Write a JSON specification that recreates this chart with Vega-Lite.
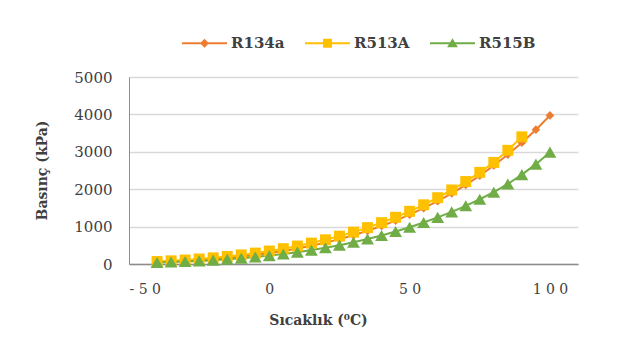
{
  "$schema": "https://vega.github.io/schema/vega-lite/v6.json",
  "width": 449,
  "height": 187,
  "autosize": "none",
  "padding": {"left": 129, "top": 77, "right": 42, "bottom": 92},
  "background": "white",
  "config": {
    "view": {"stroke": null},
    "font": "DejaVu Serif"
  },
  "data": {"values": [
    {"s":"R134a","T":-40,"P":51},{"s":"R134a","T":-35,"P":66},{"s":"R134a","T":-30,"P":84},{"s":"R134a","T":-25,"P":107},{"s":"R134a","T":-20,"P":133},{"s":"R134a","T":-15,"P":164},{"s":"R134a","T":-10,"P":201},{"s":"R134a","T":-5,"P":243},{"s":"R134a","T":0,"P":293},{"s":"R134a","T":5,"P":350},{"s":"R134a","T":10,"P":415},{"s":"R134a","T":15,"P":488},{"s":"R134a","T":20,"P":572},{"s":"R134a","T":25,"P":665},{"s":"R134a","T":30,"P":770},{"s":"R134a","T":35,"P":887},{"s":"R134a","T":40,"P":1017},{"s":"R134a","T":45,"P":1160},{"s":"R134a","T":50,"P":1318},{"s":"R134a","T":55,"P":1492},{"s":"R134a","T":60,"P":1682},{"s":"R134a","T":65,"P":1890},{"s":"R134a","T":70,"P":2117},{"s":"R134a","T":75,"P":2364},{"s":"R134a","T":80,"P":2634},{"s":"R134a","T":85,"P":2926},{"s":"R134a","T":90,"P":3244},{"s":"R134a","T":95,"P":3591},{"s":"R134a","T":100,"P":3972},
    {"s":"R513A","T":-40,"P":66},{"s":"R513A","T":-35,"P":85},{"s":"R513A","T":-30,"P":107},{"s":"R513A","T":-25,"P":134},{"s":"R513A","T":-20,"P":165},{"s":"R513A","T":-15,"P":201},{"s":"R513A","T":-10,"P":243},{"s":"R513A","T":-5,"P":292},{"s":"R513A","T":0,"P":347},{"s":"R513A","T":5,"P":410},{"s":"R513A","T":10,"P":480},{"s":"R513A","T":15,"P":559},{"s":"R513A","T":20,"P":647},{"s":"R513A","T":25,"P":745},{"s":"R513A","T":30,"P":853},{"s":"R513A","T":35,"P":973},{"s":"R513A","T":40,"P":1105},{"s":"R513A","T":45,"P":1250},{"s":"R513A","T":50,"P":1409},{"s":"R513A","T":55,"P":1583},{"s":"R513A","T":60,"P":1773},{"s":"R513A","T":65,"P":1980},{"s":"R513A","T":70,"P":2205},{"s":"R513A","T":75,"P":2450},{"s":"R513A","T":80,"P":2716},{"s":"R513A","T":85,"P":3040},{"s":"R513A","T":90,"P":3400},
    {"s":"R515B","T":-40,"P":40},{"s":"R515B","T":-35,"P":52},{"s":"R515B","T":-30,"P":66},{"s":"R515B","T":-25,"P":83},{"s":"R515B","T":-20,"P":103},{"s":"R515B","T":-15,"P":127},{"s":"R515B","T":-10,"P":155},{"s":"R515B","T":-5,"P":188},{"s":"R515B","T":0,"P":225},{"s":"R515B","T":5,"P":268},{"s":"R515B","T":10,"P":317},{"s":"R515B","T":15,"P":372},{"s":"R515B","T":20,"P":434},{"s":"R515B","T":25,"P":504},{"s":"R515B","T":30,"P":582},{"s":"R515B","T":35,"P":668},{"s":"R515B","T":40,"P":763},{"s":"R515B","T":45,"P":868},{"s":"R515B","T":50,"P":983},{"s":"R515B","T":55,"P":1109},{"s":"R515B","T":60,"P":1246},{"s":"R515B","T":65,"P":1395},{"s":"R515B","T":70,"P":1556},{"s":"R515B","T":75,"P":1731},{"s":"R515B","T":80,"P":1920},{"s":"R515B","T":85,"P":2140},{"s":"R515B","T":90,"P":2390},{"s":"R515B","T":95,"P":2670},{"s":"R515B","T":100,"P":2990}
  ]},
  "encoding": {
    "x": {
      "field": "T", "type": "quantitative",
      "scale": {"domain": [-50, 110], "nice": false, "zero": false},
      "axis": {
        "values": [-50, 0, 50, 100],
        "labelExpr": "join(split(toString(datum.value), ''), ' ')",
        "grid": false, "ticks": false,
        "domainColor": "#8c8c8c", "domainWidth": 1.5,
        "labelFont": "DejaVu Serif", "labelFontSize": 14, "labelColor": "#404040",
        "labelPadding": 18,
        "title": "Sıcaklık (⁰C)",
        "titleFont": "DejaVu Serif", "titleFontSize": 14, "titleFontWeight": "bold", "titleColor": "#404040",
        "titleX": 189, "titleY": 56, "titleBaseline": "middle"
      }
    },
    "y": {
      "field": "P", "type": "quantitative",
      "scale": {"domain": [0, 5000], "nice": false},
      "axis": {
        "values": [0, 1000, 2000, 3000, 4000, 5000],
        "format": "d",
        "grid": true, "gridColor": "#d9d9d9", "gridWidth": 1.5,
        "ticks": false,
        "domainColor": "#8c8c8c", "domainWidth": 1,
        "labelFont": "DejaVu Serif", "labelFontSize": 15, "labelColor": "#404040",
        "labelPadding": 17,
        "title": "Basınç (kPa)",
        "titleFont": "DejaVu Serif", "titleFontSize": 14, "titleFontWeight": "bold", "titleColor": "#404040",
        "titleX": -87, "titleY": 93, "titleAngle": -90, "titleBaseline": "middle"
      }
    }
  },
  "layer": [
    {
      "mark": {"type": "line", "strokeWidth": 2},
      "encoding": {
        "color": {"field": "s", "type": "nominal",
          "scale": {"domain": ["R134a","R513A","R515B"], "range": ["#ED7D31","#FFC000","#70AD47"]},
          "legend": null}
      }
    },
    {
      "mark": {"type": "point", "filled": true, "opacity": 1},
      "encoding": {
        "color": {"field": "s", "type": "nominal",
          "scale": {"domain": ["R134a","R513A","R515B"], "range": ["#ED7D31","#FFC000","#70AD47"]},
          "legend": null},
        "shape": {"field": "s", "type": "nominal",
          "scale": {"domain": ["R134a","R513A","R515B"], "range": ["diamond","square","triangle-up"]},
          "legend": null},
        "size": {"field": "s", "type": "nominal",
          "scale": {"domain": ["R134a","R513A","R515B"], "range": [75, 165, 135]},
          "legend": null}
      }
    },
    {
      "transform": [{"filter": "datum.T > 1000"}],
      "mark": {"type": "point", "filled": true, "opacity": 1, "size": 2025},
      "encoding": {
        "color": {"field": "s", "type": "nominal",
          "scale": {"domain": ["R134a","R513A","R515B"], "range": ["#ED7D31","#FFC000","#70AD47"]},
          "legend": {
            "orient": "none", "direction": "horizontal",
            "legendX": 53, "legendY": -56.5,
            "title": null, "padding": 0,
            "symbolSize": 2025, "symbolStrokeWidth": 0,
            "labelFont": "DejaVu Serif", "labelFontSize": 15, "labelFontWeight": "bold", "labelColor": "#404040",
            "labelOffset": 4, "columnPadding": 20
          }},
        "shape": {"field": "s", "type": "nominal",
          "scale": {"domain": ["R134a","R513A","R515B"], "range": [
            "M-1,-0.045H1V0.045H-1Z M0,-0.2L0.2,0L0,0.2L-0.2,0Z",
            "M-1,-0.045H1V0.045H-1Z M-0.2,-0.2H0.2V0.2H-0.2Z",
            "M-1,-0.045H1V0.045H-1Z M0,-0.22L0.24,0.18L-0.24,0.18Z"
          ]},
          "legend": {
            "orient": "none", "direction": "horizontal",
            "legendX": 53, "legendY": -56.5,
            "title": null, "padding": 0,
            "symbolSize": 2025, "symbolStrokeWidth": 0,
            "labelFont": "DejaVu Serif", "labelFontSize": 15, "labelFontWeight": "bold", "labelColor": "#404040",
            "labelOffset": 4, "columnPadding": 20
          }}
      }
    }
  ],
  "resolve": {"scale": {"shape": "independent", "color": "independent", "size": "independent"}}
}
